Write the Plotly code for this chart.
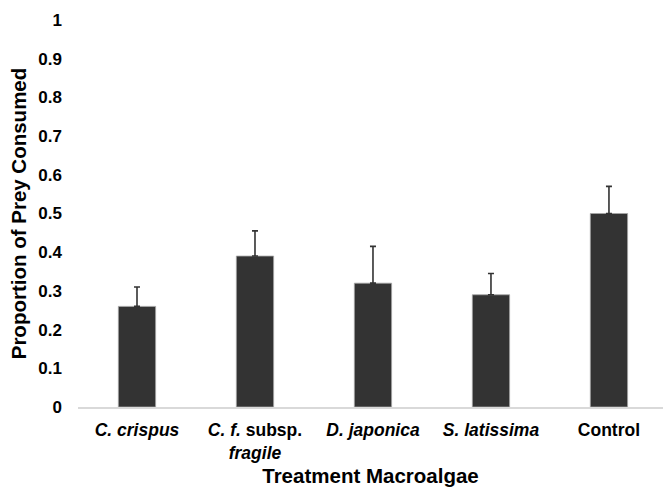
import plotly.graph_objects as go

# Mean proportion of prey consumed per macroalgae treatment, with +1 SE
categories = [
    "<i>C. crispus</i>",
    "<i>C. f.</i> subsp.<br><i>fragile</i>",
    "<i>D. japonica</i>",
    "<i>S. latissima</i>",
    "Control",
]
mean_consumed = [0.26, 0.39, 0.32, 0.29, 0.50]
std_error = [0.05, 0.065, 0.095, 0.055, 0.07]
y_ticks = [0, 0.1, 0.2, 0.3, 0.4, 0.5, 0.6, 0.7, 0.8, 0.9, 1]
y_tick_text = ["0", "0.1", "0.2", "0.3", "0.4", "0.5", "0.6", "0.7", "0.8", "0.9", "1"]

FONT = "Liberation Sans, Arial, sans-serif"

fig = go.Figure(
    go.Bar(
        x=list(range(len(categories))),
        y=mean_consumed,
        width=0.316,
        marker=dict(color="#333333", line=dict(color="#a6a6a6", width=0.8)),
        error_y=dict(
            type="data",
            array=std_error,
            symmetric=False,
            arrayminus=[0] * len(std_error),
            color="#333333",
            thickness=1.6,
            width=3,
        ),
    )
)

fig.update_layout(
    width=663,
    height=487,
    margin=dict(l=78, r=0, t=20, b=80),
    plot_bgcolor="white",
    paper_bgcolor="white",
    showlegend=False,
    font=dict(family=FONT, size=17, color="black"),
)

fig.update_xaxes(
    range=[-0.5, 4.458],
    tickmode="array",
    tickvals=list(range(len(categories))),
    ticktext=categories,
    tickfont=dict(family=FONT, size=17.5, color="black", weight="bold"),
    ticks="",
    ticklabelstandoff=6,
    showline=True,
    linecolor="#d9d9d9",
    linewidth=1.5,
    showgrid=False,
    zeroline=False,
    title=dict(
        text="Treatment Macroalgae",
        font=dict(family=FONT, size=20.5, color="black", weight="bold"),
        standoff=8,
    ),
)

fig.update_yaxes(
    range=[0, 1],
    tickmode="array",
    tickvals=y_ticks,
    ticktext=y_tick_text,
    tickfont=dict(family=FONT, size=17, color="black", weight="bold"),
    ticks="",
    ticklabelstandoff=15,
    showline=False,
    showgrid=False,
    zeroline=False,
    title=dict(
        text="Proportion of Prey Consumed",
        font=dict(family=FONT, size=20.5, color="black", weight="bold"),
        standoff=6,
    ),
)

fig.write_html("out.html")
